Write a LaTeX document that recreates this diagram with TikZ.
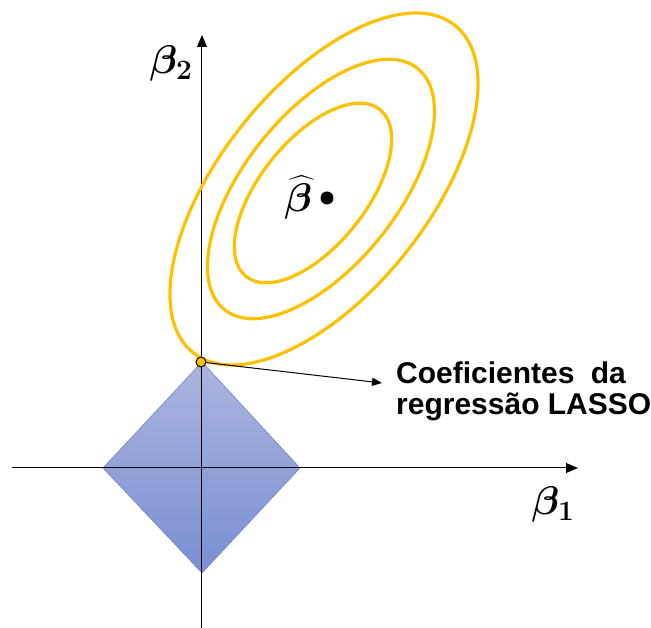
\RequirePackage{fix-cm}
\documentclass[tikz,border=0pt]{standalone}
\usepackage[no-math]{fontspec}
\usepackage{amsmath,bm}
\usetikzlibrary{arrows.meta,positioning}
\setmainfont{Liberation Sans}
\definecolor{lsgold}{RGB}{255,192,0}
\definecolor{diatop}{RGB}{171,181,223}
\definecolor{diabot}{RGB}{122,143,209}
\definecolor{diaedge}{RGB}{110,135,205}

\begin{document}
\begin{tikzpicture}[
    x=1pt, y=1pt,
    axis/.style={-{Triangle[length=12pt,width=10pt]}, line width=1pt},
    contour/.style={draw=lsgold, line width=3.2pt},
    pointer/.style={-{Triangle[length=10pt,width=8pt]}, line width=1pt},
    coef/.style={font=\bfseries\fontsize{30}{31}\selectfont, align=left,
                 inner sep=0pt, anchor=north west},
    greek/.style={font=\fontsize{40}{44}\selectfont, inner sep=0pt}
  ]
    \useasboundingbox (-202,-160) rectangle (449,468);

    % L1 constraint region
    \shadedraw[top color=diatop, bottom color=diabot, draw=diaedge, line width=0.6pt]
      (0,106) -- (98,0) -- (0,-105) -- (-99,0) -- cycle;

    % axes
    \coordinate (xstart) at (-190,0);
    \coordinate (xend) at (376,0);
    \coordinate (ystart) at (0,-160);
    \coordinate (yend) at (0,433);
    \draw[axis] (xstart) -- (xend);
    \draw[axis] (ystart) -- (yend);
    \node[greek] (b1) at (351,-37) {$\bm{\beta}_{\mathbf{1}}$};
    \node[greek] (b2) at (-31,404) {$\bm{\beta}_{\mathbf{2}}$};

    % RSS contours
    \draw[contour, rotate around={51.3:(122,279)}] (122,279) ellipse [x radius=209.6pt, y radius=103.7pt];
    \draw[contour, rotate around={51.3:(119,279)}] (119,279) ellipse [x radius=154.5pt, y radius=76.4pt];
    \draw[contour, rotate around={51.3:(111,275)}] (111,275) ellipse [x radius=107pt, y radius=53pt];

    % least squares estimate
    \node[circle, fill=black, inner sep=0pt, minimum size=13pt] (betahat) at (125,270) {};
    \node[greek, left=8pt of betahat] (hatlabel) {$\widehat{\bm{\beta}}$};

    % lasso solution
    \node[circle, fill=lsgold, draw=black, line width=1pt, inner sep=0pt,
          minimum size=10pt] (touch) at (-1,106) {};
    \node[coef] (coef) at (194,106) {Coeficientes\hspace{8pt} da\\regressão LASSO};
    \coordinate[below left=21pt and 14pt of coef.north west] (tip);
    \draw[pointer] (touch) -- (tip);
\end{tikzpicture}
\end{document}
